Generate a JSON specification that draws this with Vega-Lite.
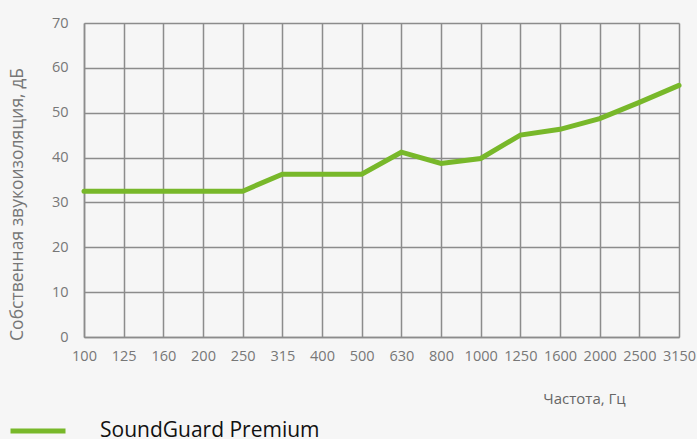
{
  "$schema": "https://vega.github.io/schema/vega-lite/v6.json",
  "width": 595,
  "height": 314,
  "autosize": {"type": "none"},
  "padding": {"left": 84, "top": 23, "right": 18, "bottom": 102},
  "background": "#f6f6f6",
  "config": {
    "view": {"stroke": null},
    "font": "Open Sans"
  },
  "data": {
    "values": [
      {"freq": "100", "db": 32.5, "series": "SoundGuard Premium"},
      {"freq": "125", "db": 32.5, "series": "SoundGuard Premium"},
      {"freq": "160", "db": 32.5, "series": "SoundGuard Premium"},
      {"freq": "200", "db": 32.5, "series": "SoundGuard Premium"},
      {"freq": "250", "db": 32.5, "series": "SoundGuard Premium"},
      {"freq": "315", "db": 36.3, "series": "SoundGuard Premium"},
      {"freq": "400", "db": 36.3, "series": "SoundGuard Premium"},
      {"freq": "500", "db": 36.3, "series": "SoundGuard Premium"},
      {"freq": "630", "db": 41.2, "series": "SoundGuard Premium"},
      {"freq": "800", "db": 38.7, "series": "SoundGuard Premium"},
      {"freq": "1000", "db": 39.8, "series": "SoundGuard Premium"},
      {"freq": "1250", "db": 45.0, "series": "SoundGuard Premium"},
      {"freq": "1600", "db": 46.3, "series": "SoundGuard Premium"},
      {"freq": "2000", "db": 48.7, "series": "SoundGuard Premium"},
      {"freq": "2500", "db": 52.3, "series": "SoundGuard Premium"},
      {"freq": "3150", "db": 56.1, "series": "SoundGuard Premium"}
    ]
  },
  "mark": {"type": "line", "strokeWidth": 5, "strokeCap": "round", "strokeJoin": "miter"},
  "encoding": {
    "x": {
      "field": "freq",
      "type": "ordinal",
      "sort": null,
      "scale": {"type": "point", "padding": 0},
      "axis": {
        "title": "Частота, Гц",
        "titleFont": "Open Sans",
        "titleFontSize": 15,
        "titleFontWeight": "normal",
        "titleColor": "#666666",
        "titleX": 500,
        "titleY": 61,
        "titleAlign": "center",
        "titleBaseline": "middle",
        "labelAngle": 0,
        "labelFont": "Open Sans",
        "labelFontSize": 14.5,
        "labelColor": "#777777",
        "labelPadding": 12,
        "labelOverlap": false,
        "ticks": false,
        "grid": true,
        "gridColor": "#8c8c8c",
        "gridWidth": 1.5,
        "gridOpacity": 1,
        "domainColor": "#8c8c8c",
        "domainWidth": 1.5
      }
    },
    "y": {
      "field": "db",
      "type": "quantitative",
      "scale": {"domain": [0, 70], "nice": false},
      "axis": {
        "values": [0, 10, 20, 30, 40, 50, 60, 70],
        "title": "Собственная звукоизоляция, дБ",
        "titleFont": "Open Sans",
        "titleFontSize": 17.5,
        "titleFontWeight": "normal",
        "titleColor": "#777777",
        "titleX": -67,
        "titleY": 181,
        "titleAngle": -90,
        "titleAlign": "center",
        "titleBaseline": "middle",
        "labelFont": "Open Sans",
        "labelFontSize": 14.5,
        "labelColor": "#777777",
        "labelPadding": 16,
        "ticks": false,
        "grid": true,
        "gridColor": "#8c8c8c",
        "gridWidth": 1.5,
        "gridOpacity": 1,
        "domainColor": "#8c8c8c",
        "domainWidth": 1.5
      }
    },
    "color": {
      "field": "series",
      "type": "nominal",
      "scale": {"range": ["#78b82a"]},
      "legend": {
        "title": null,
        "orient": "none",
        "legendX": -76,
        "legendY": 378,
        "padding": 0,
        "symbolType": "stroke",
        "symbolSize": 3025,
        "symbolStrokeWidth": 5,
        "labelFont": "Open Sans",
        "labelFontSize": 21,
        "labelColor": "#111111",
        "labelOffset": 32,
        "labelLimit": 400
      }
    }
  }
}
